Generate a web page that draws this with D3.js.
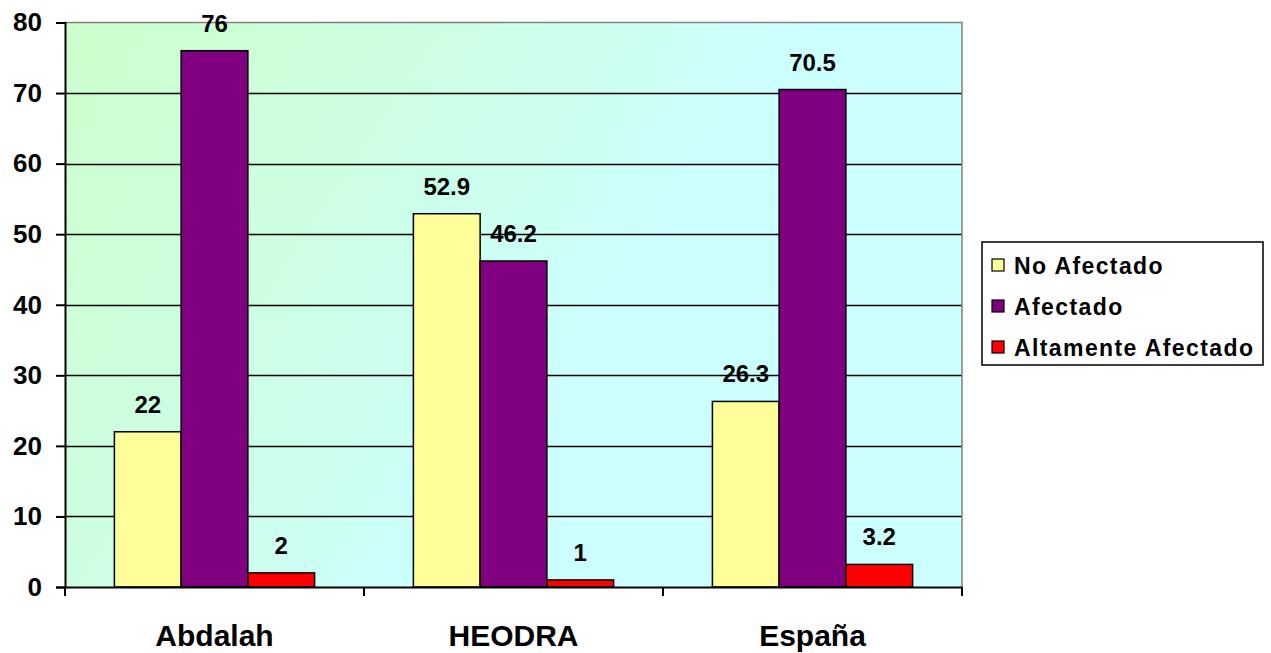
<!DOCTYPE html>
<html>
<head>
<meta charset="utf-8">
<script src="https://cdn.jsdelivr.net/npm/d3@7"></script>
<style>
  html, body { margin: 0; padding: 0; background: #fff; }
  svg { display: block; font-family: "Liberation Sans", Arial, sans-serif; font-weight: bold; }
</style>
</head>
<body>
<svg id="chart" width="1271" height="653"></svg>
<script>
// Categories, series and values
const categories = ["Abdalah", "HEODRA", "España"];
const seriesNames = ["No Afectado", "Afectado", "Altamente Afectado"];
const seriesColors = ["#ffff99", "#800080", "#ff0000"];
const noAfectado = [22, 52.9, 26.3];
const afectado = [76, 46.2, 70.5];
const altamenteAfectado = [2, 1, 3.2];
const valueLabels = [["22", "52.9", "26.3"], ["76", "46.2", "70.5"], ["2", "1", "3.2"]];
const yTicks = [0, 10, 20, 30, 40, 50, 60, 70, 80];

const seriesValues = [noAfectado, afectado, altamenteAfectado];

const svg = d3.select("#chart");
const plot = { left: 65, top: 22.5, right: 962, bottom: 587 };

const x = d3.scaleBand().domain(categories).range([plot.left, plot.right]).paddingInner(0).paddingOuter(0);
const xInner = d3.scaleBand().domain(seriesNames).range([0, x.bandwidth()]).paddingInner(0).paddingOuter(0.74);
const y = d3.scaleLinear().domain([0, 80]).range([plot.bottom, plot.top]);

// Background gradient of the plot area
const defs = svg.append("defs");
const grad = defs.append("linearGradient").attr("id", "bg")
  .attr("gradientUnits", "userSpaceOnUse")
  .attr("x1", plot.left).attr("y1", plot.top)
  .attr("x2", 760).attr("y2", 480);
grad.append("stop").attr("offset", 0).attr("stop-color", "#ccffcc");
grad.append("stop").attr("offset", 0.35).attr("stop-color", "#ccffe0");
grad.append("stop").attr("offset", 0.75).attr("stop-color", "#ccffff");
grad.append("stop").attr("offset", 1).attr("stop-color", "#ccffff");

svg.append("rect")
  .attr("x", plot.left).attr("y", plot.top)
  .attr("width", plot.right - plot.left).attr("height", plot.bottom - plot.top)
  .attr("fill", "url(#bg)");

// Gridlines
svg.append("g").selectAll("line")
  .data(yTicks.filter(d => d > 0 && d < 80))
  .join("line")
  .attr("x1", plot.left).attr("x2", plot.right)
  .attr("y1", d => Math.round(y(d)) + 0.5).attr("y2", d => Math.round(y(d)) + 0.5)
  .attr("stroke", "#000").attr("stroke-width", 1.5);

// Plot border (top and right in gray)
svg.append("path")
  .attr("d", `M${plot.left},${plot.top}H${plot.right}V${plot.bottom}`)
  .attr("fill", "none").attr("stroke", "#808080").attr("stroke-width", 1.5);

// Bars
const groups = svg.append("g").selectAll("g")
  .data(categories)
  .join("g")
  .attr("transform", d => `translate(${x(d)},0)`);

groups.each(function(cat, ci) {
  const g = d3.select(this);
  seriesNames.forEach((s, si) => {
    const v = seriesValues[si][ci];
    g.append("rect")
      .attr("x", xInner(s))
      .attr("y", y(v))
      .attr("width", xInner.bandwidth())
      .attr("height", y(0) - y(v))
      .attr("fill", seriesColors[si])
      .attr("stroke", "#000").attr("stroke-width", 1.5);
    g.append("text")
      .attr("x", xInner(s) + xInner.bandwidth() / 2)
      .attr("y", y(v) - 19)
      .attr("text-anchor", "middle")
      .attr("font-size", 24)
      .attr("fill", "#000")
      .text(valueLabels[si][ci]);
  });
});

// Y axis
const yAxis = d3.axisLeft(y).tickValues(yTicks).tickSize(9).tickPadding(14).tickFormat(d3.format("d"));
const yG = svg.append("g").attr("transform", `translate(${plot.left},0)`).call(yAxis);
yG.select(".domain").attr("stroke", "#000").attr("stroke-width", 2);
yG.selectAll(".tick line").attr("stroke", "#000").attr("stroke-width", 2);
yG.selectAll(".tick text").attr("font-size", 26).attr("font-weight", "bold")
  .attr("font-family", "'Liberation Sans', Arial, sans-serif").attr("fill", "#000");

// X axis
const xAxis = d3.axisBottom(x).tickSize(0).tickPadding(38);
const xG = svg.append("g").attr("transform", `translate(0,${plot.bottom})`).call(xAxis);
xG.select(".domain").attr("stroke", "#000").attr("stroke-width", 2);
xG.selectAll(".tick text").attr("font-size", 30).attr("font-weight", "bold")
  .attr("font-family", "'Liberation Sans', Arial, sans-serif").attr("fill", "#000");

// Category separator ticks below the axis
const edges = categories.map(c => x(c)).concat([plot.right]);
svg.append("g").selectAll("line")
  .data(edges)
  .join("line")
  .attr("x1", d => d).attr("x2", d => d)
  .attr("y1", plot.bottom).attr("y2", plot.bottom + 9)
  .attr("stroke", "#000").attr("stroke-width", 2);

// Legend
const legend = svg.append("g").attr("transform", "translate(982,242)");
legend.append("rect")
  .attr("width", 281).attr("height", 123)
  .attr("fill", "#fff").attr("stroke", "#000").attr("stroke-width", 1.5);
const rows = legend.selectAll("g.row")
  .data(seriesNames)
  .join("g").attr("class", "row")
  .attr("transform", (d, i) => `translate(10,${23 + i * 41})`);
rows.append("rect")
  .attr("x", 0).attr("y", -6).attr("width", 12).attr("height", 12)
  .attr("fill", (d, i) => seriesColors[i]).attr("stroke", "#000").attr("stroke-width", 1.2);
rows.append("text")
  .attr("x", 22).attr("y", 8.5)
  .attr("font-size", 23)
  .attr("letter-spacing", 1.4)
  .attr("fill", "#000")
  .text(d => d);
</script>
</body>
</html>
